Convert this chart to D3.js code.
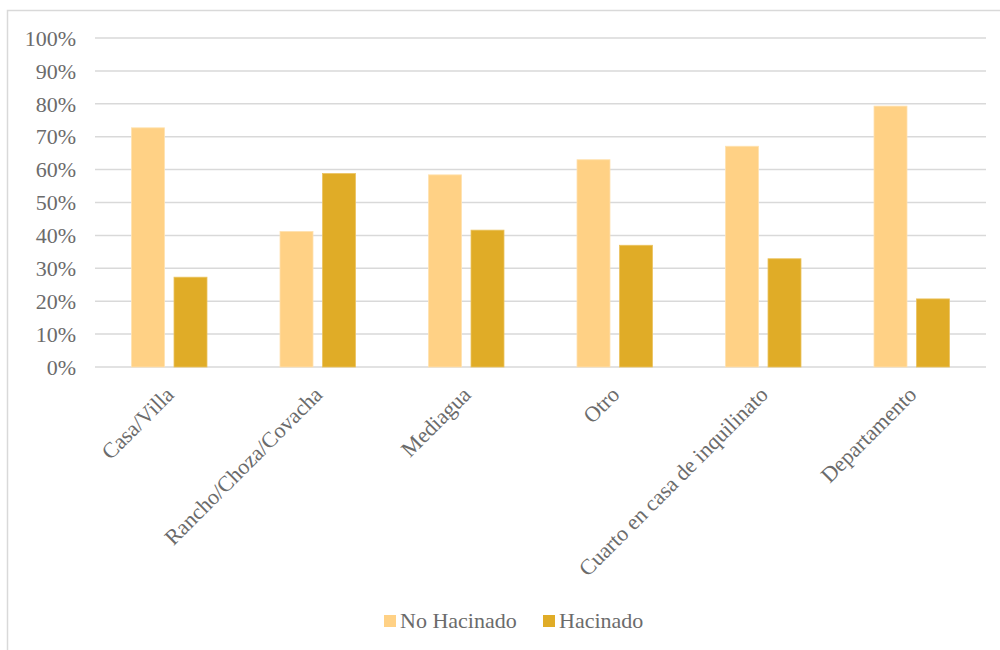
<!DOCTYPE html>
<html><head><meta charset="utf-8">
<script src="https://cdn.jsdelivr.net/npm/d3@7"></script>
<style>body{margin:0;background:#fff}svg{display:block}</style>
</head><body>
<script>
const categories = ["Casa/Villa","Rancho/Choza/Covacha","Mediagua","Otro","Cuarto en casa de inquilinato","Departamento"];
const seriesNames = ["No Hacinado","Hacinado"];
const noHacinado = [0.727,0.412,0.584,0.630,0.671,0.793];
const hacinado = [0.273,0.588,0.416,0.370,0.329,0.207];
const yTicks = [0,0.1,0.2,0.3,0.4,0.5,0.6,0.7,0.8,0.9,1.0];
const colors = ["#FFD185","#E0AC27"];

const W=1000,H=650;
const svg=d3.select("body").append("svg").attr("width",W).attr("height",H);
const font="'Liberation Serif','Times New Roman',serif";
const textColor="#6b6b6b";

svg.append("rect").attr("x",7.5).attr("y",10.5).attr("width",W).attr("height",H)
  .attr("fill","#fff").attr("stroke","#d9d9d9").attr("stroke-width",1.5);

const m={left:95,right:986,top:38,bottom:367};
const x=d3.scaleBand().domain(categories).range([m.left,m.right]);
const y=d3.scaleLinear().domain([0,1]).range([m.bottom,m.top]);

// gridlines
svg.append("g").selectAll("line").data(yTicks).join("line")
  .attr("x1",m.left).attr("x2",m.right)
  .attr("y1",d=>y(d)).attr("y2",d=>y(d))
  .attr("stroke","#d9d9d9").attr("stroke-width",1.5);

// y labels
const yAxis=d3.axisLeft(y).tickValues(yTicks).tickFormat(d3.format(".0%")).tickSize(0).tickPadding(0);
const ya=svg.append("g").attr("transform",`translate(${m.left-19},0)`).call(yAxis);
ya.select(".domain").remove();
ya.selectAll("text").attr("font-family",font).attr("font-size",22).attr("fill",textColor).attr("dy","0.33em");

// bars
const barW=33, gap=9.5;
const series=[noHacinado,hacinado];
series.forEach((vals,si)=>{
  svg.append("g").selectAll("rect").data(categories).join("rect")
    .attr("x",(c)=>x(c)+x.bandwidth()/2 + (si===0 ? -gap/2-barW : gap/2))
    .attr("width",barW)
    .attr("y",(c,i)=>y(vals[i]))
    .attr("height",(c,i)=>y(0)-y(vals[i]))
    .attr("fill",colors[si])
    .attr("stroke",si===0?"#FFE2B0":"#EBC360").attr("stroke-width",0.8);
});

// x labels
const xa=svg.append("g").attr("transform",`translate(0,${m.bottom})`)
  .call(d3.axisBottom(x).tickSize(0).tickPadding(0));
xa.select(".domain").remove();
xa.selectAll("text").attr("font-family",font).attr("font-size",22).attr("fill",textColor)
  .attr("text-anchor","end").attr("dy",null).attr("y",0)
  .attr("transform","translate(6,29) rotate(-45)");

// legend
const lg=svg.append("g");
const legendX=[384,543];
seriesNames.forEach((n,i)=>{
  lg.append("rect").attr("x",legendX[i]).attr("y",615).attr("width",12).attr("height",12).attr("fill",colors[i]);
  lg.append("text").attr("x",legendX[i]+16).attr("y",628).text(n)
    .attr("font-family",font).attr("font-size",22).attr("fill",textColor);
});
</script>
</body></html>
